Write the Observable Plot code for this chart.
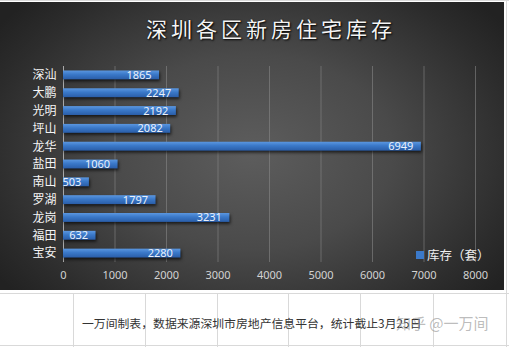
<!DOCTYPE html>
<html><head><meta charset="utf-8">
<script src="https://cdn.jsdelivr.net/npm/d3@7"></script>
<script src="https://cdn.jsdelivr.net/npm/@observablehq/plot@0.6"></script>
<style>
html,body{margin:0;padding:0;background:#fff;width:509px;height:347px;overflow:hidden;position:relative;font-family:"Noto Sans CJK SC","Noto Sans",sans-serif;}
.vline{position:absolute;width:1px;background:#d9d9d9;}
.hline{position:absolute;height:1px;background:#d9d9d9;}
#panel{position:absolute;left:0;top:2px;width:504px;height:288px;
 background:radial-gradient(ellipse 62% 75% at 50% 52%, #5d5d5d 0%, #4a4a4a 45%, #2c2c2c 85%, #222 100%);}
#title{position:absolute;left:4px;top:11px;width:534px;text-align:center;color:#f4f4f4;font-size:21px;letter-spacing:4px;font-weight:normal;
 font-family:"Noto Sans CJK SC",serif;text-shadow:1px 1px 2px #000, 0 0 1px #000;}
#chart{position:absolute;left:0;top:0;}
#legend{position:absolute;left:416px;top:243px;color:#f0f0f0;font-size:12.5px;display:flex;align-items:center;}
#legend span.sw{display:inline-block;width:8px;height:8px;background:#3b79c9;margin-right:3px;}
#caption{position:absolute;left:82px;top:314px;font-size:11.85px;color:#333;white-space:nowrap;}
#wm{position:absolute;left:396px;top:312px;font-size:15px;color:rgba(150,150,150,0.65);white-space:nowrap;}
g[aria-label="bar"]{filter:drop-shadow(1px 2px 1.5px rgba(0,0,0,0.65));}
</style></head>
<body>
<div class="hline" style="left:0;top:0;width:509px"></div>
<div class="hline" style="left:0;top:293px;width:509px"></div>
<div class="hline" style="left:0;top:345px;width:509px"></div>
<div class="vline" style="left:73px;top:293px;height:54px"></div>
<div class="vline" style="left:145px;top:293px;height:54px"></div>
<div class="vline" style="left:217px;top:293px;height:54px"></div>
<div class="vline" style="left:288px;top:293px;height:54px"></div>
<div class="vline" style="left:360px;top:293px;height:54px"></div>
<div class="vline" style="left:433px;top:293px;height:54px"></div>
<div class="vline" style="left:506px;top:0;height:347px"></div>
<div id="panel">
  <div id="title">深圳各区新房住宅库存</div>
  <div id="chart"></div>
  <div id="legend"><span class="sw"></span>库存（套）</div>
</div>
<div id="caption">一万间制表，数据来源深圳市房地产信息平台，统计截止3月25日</div>
<div id="wm">知乎 @一万间</div>
<script>
const categories = ["深汕","大鹏","光明","坪山","龙华","盐田","南山","罗湖","龙岗","福田","宝安"];
const values = [1865,2247,2192,2082,6949,1060,503,1797,3231,632,2280];
const xTicks = [0,1000,2000,3000,4000,5000,6000,7000,8000];
const seriesName = "库存（套）";

const data = categories.map((c,i)=>({cat:c, value:values[i]}));

const svg = Plot.plot({
  width:504, height:288,
  marginTop:64, marginBottom:28, marginLeft:63, marginRight:29,
  style:{background:"transparent", color:"#fff", fontFamily:"'Noto Sans CJK SC','Noto Sans',sans-serif", overflow:"visible"},
  x:{domain:[0,8000]},
  y:{domain:categories, paddingInner:0.5, paddingOuter:0.25, round:false},
  marks:[
    Plot.gridX(xTicks,{stroke:"#8c8c8c", strokeOpacity:0.55, strokeWidth:1}),
    Plot.ruleX([0],{stroke:"#a8a8a8", strokeWidth:1}),
    Plot.barX(data,{x:"value", y:"cat", fill:"url(#barGrad)"}),
    Plot.text(data,{x:"value", y:"cat", text:d=>String(d.value), textAnchor:"end", dx:-8, fill:"#eaf1fb", fontSize:11, fontFamily:"'Noto Sans',sans-serif"}),
    Plot.axisX({ticks:xTicks, tickFormat:d3.format("d"), tickSize:0, tickPadding:9, fontSize:11, fill:"#d2d2d2", label:null, fontFamily:"'Noto Sans',sans-serif"}),
    Plot.axisY({tickSize:0, tickPadding:7, fontSize:12, fill:"#f5f5f5", label:null})
  ]
});
svg.insertAdjacentHTML("afterbegin",
 '<defs><linearGradient id="barGrad" x1="0" y1="0" x2="0" y2="1">' +
 '<stop offset="0" stop-color="#5b97e0"/><stop offset="0.45" stop-color="#3a78c8"/><stop offset="1" stop-color="#2a5da8"/>' +
 '</linearGradient></defs>');
document.getElementById("chart").appendChild(svg);
</script>
</body></html>
